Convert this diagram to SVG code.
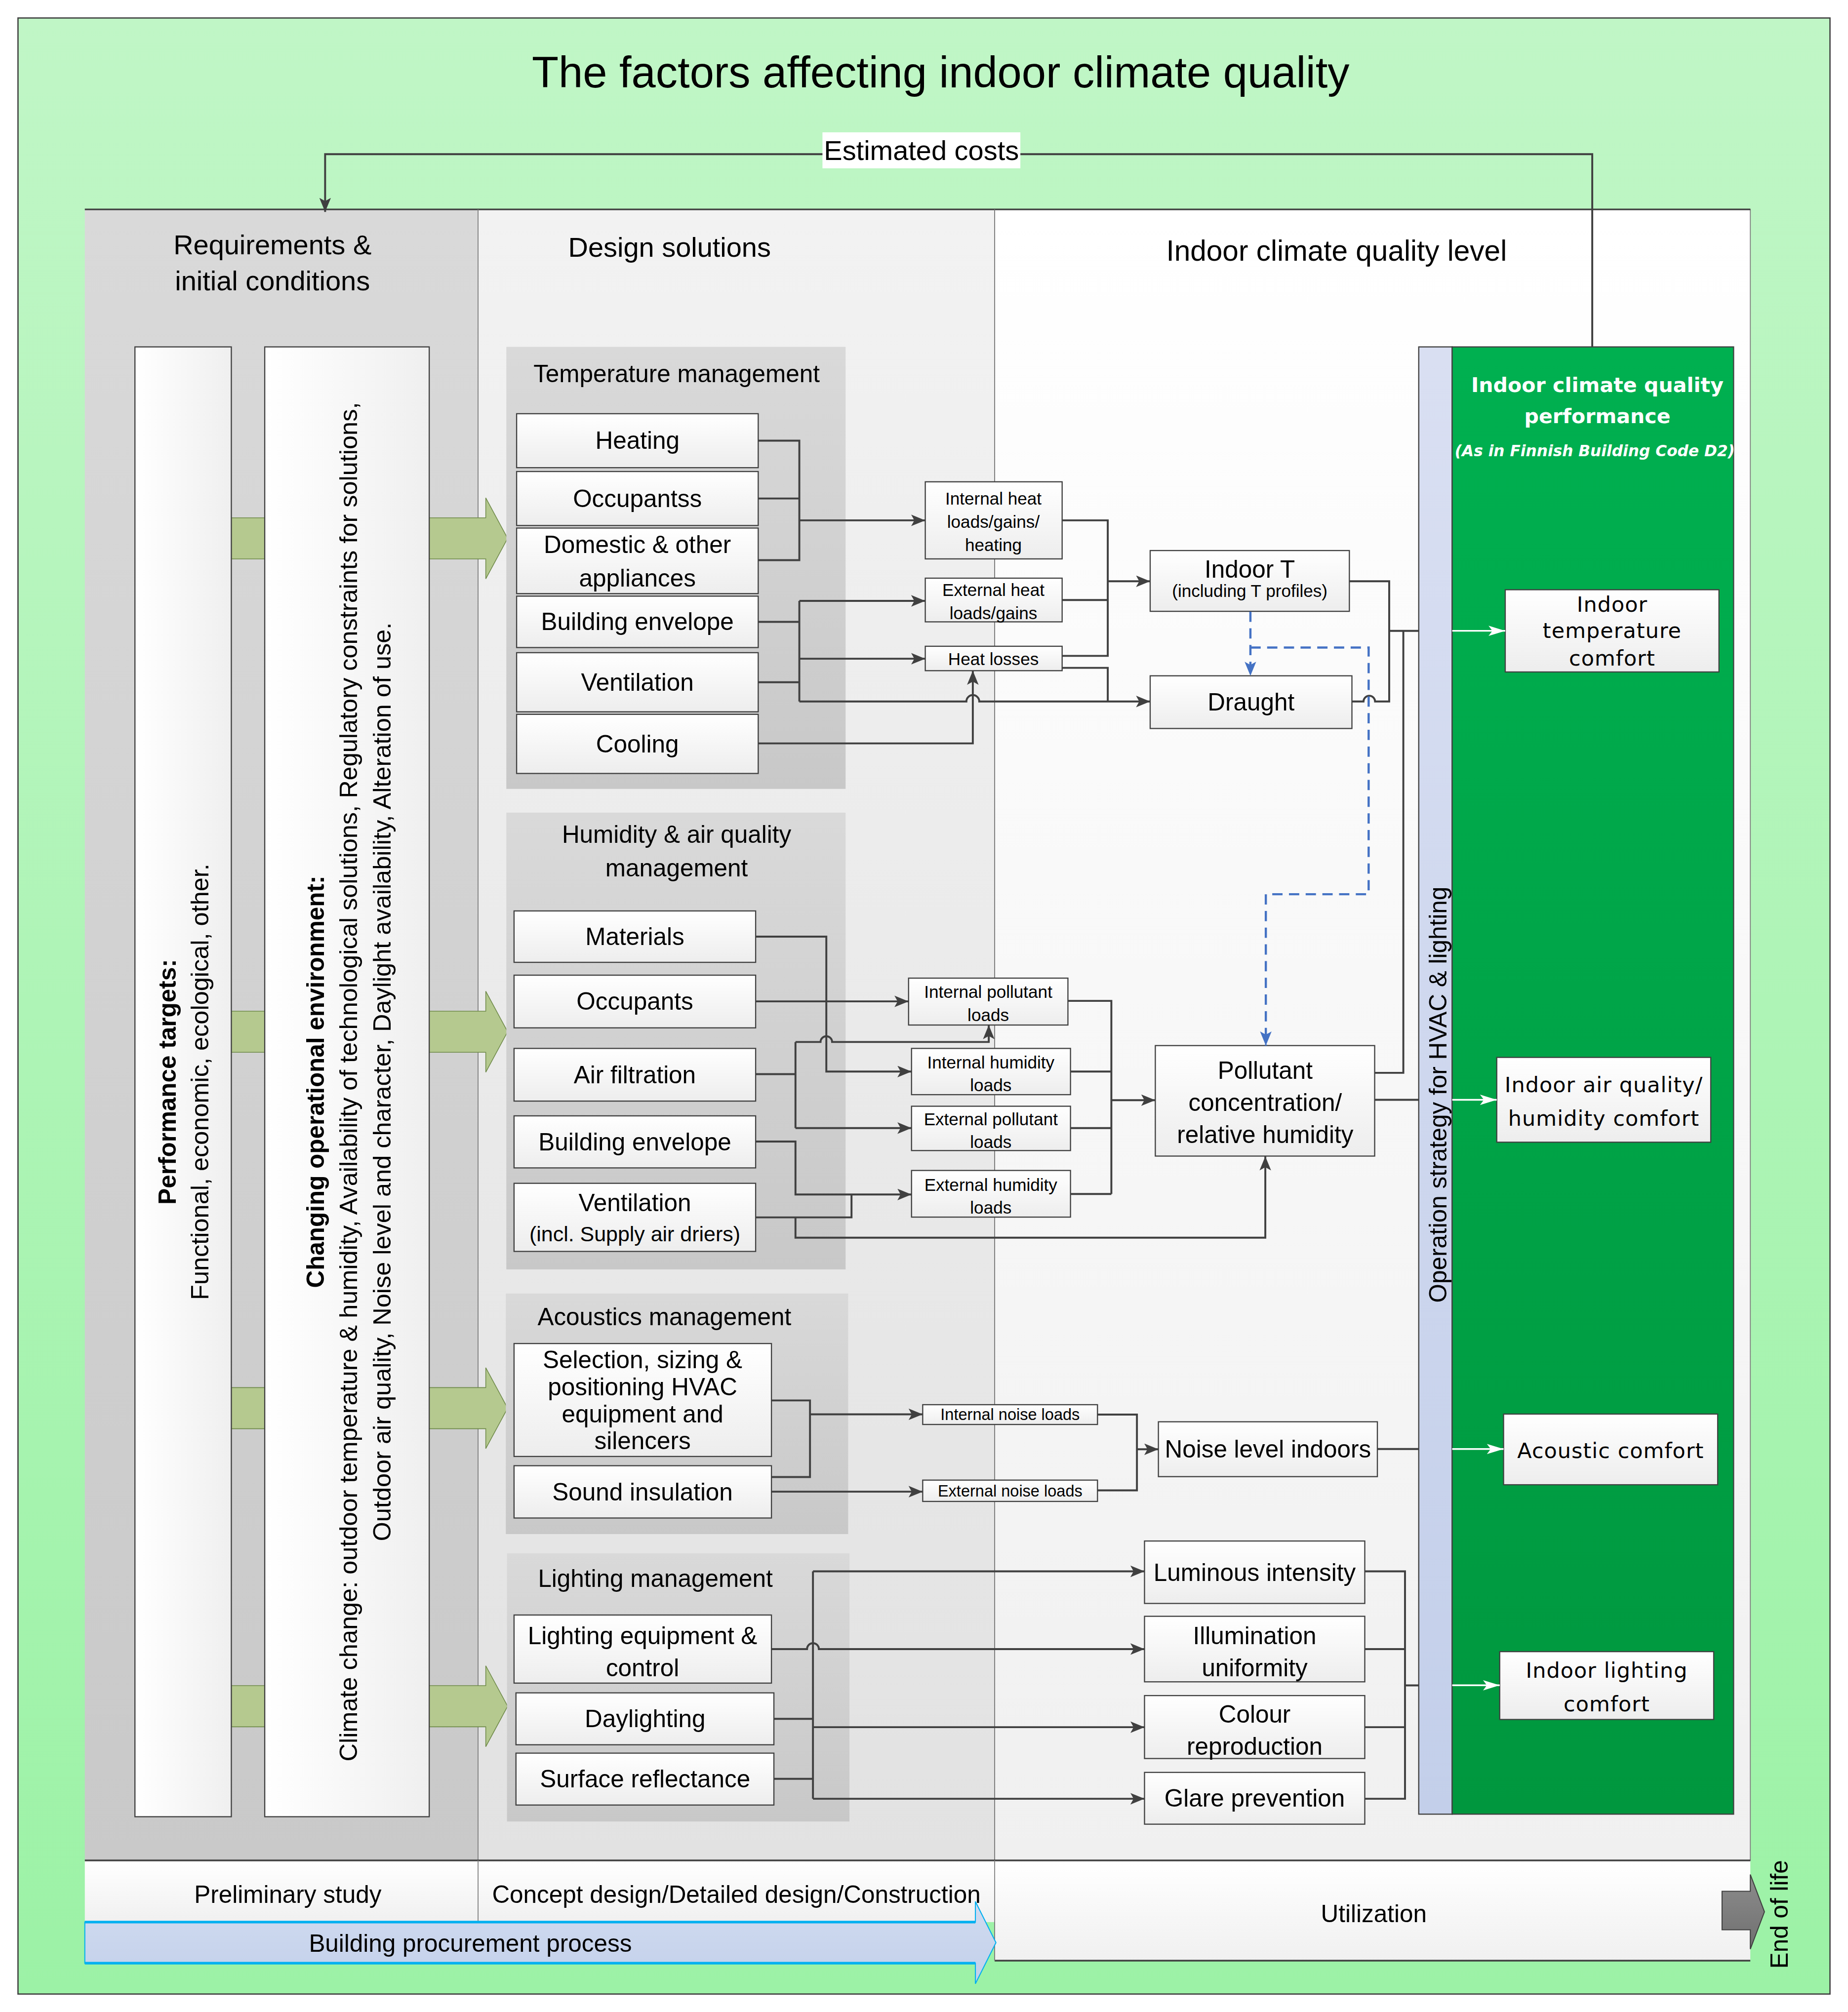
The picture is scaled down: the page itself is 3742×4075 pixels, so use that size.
<svg xmlns="http://www.w3.org/2000/svg" width="3742" height="4075" viewBox="0 0 3742 4075">
<defs>
<linearGradient id="gOuter" x1="0" y1="0" x2="0" y2="1"><stop offset="0" stop-color="#c0f6c6"/><stop offset="1" stop-color="#9cf2a6"/></linearGradient>
<linearGradient id="gReq" x1="0" y1="0" x2="0" y2="1"><stop offset="0" stop-color="#d9d9d9"/><stop offset="1" stop-color="#c9c9c9"/></linearGradient>
<linearGradient id="gDes" x1="0" y1="0" x2="0" y2="1"><stop offset="0" stop-color="#f2f2f2"/><stop offset="1" stop-color="#e2e2e2"/></linearGradient>
<linearGradient id="gInd" x1="0" y1="0" x2="0" y2="1"><stop offset="0" stop-color="#ffffff"/><stop offset="1" stop-color="#f0f0f0"/></linearGradient>
<linearGradient id="gGrp" x1="0" y1="0" x2="0" y2="1"><stop offset="0" stop-color="#d9d9d9"/><stop offset="1" stop-color="#c8c8c8"/></linearGradient>
<linearGradient id="gBox" x1="0" y1="0" x2="0" y2="1"><stop offset="0" stop-color="#ffffff"/><stop offset="1" stop-color="#ededed"/></linearGradient>
<linearGradient id="gBoxH" x1="0" y1="0" x2="1" y2="0"><stop offset="0" stop-color="#ffffff"/><stop offset="1" stop-color="#efefef"/></linearGradient>
<linearGradient id="gBar" x1="0" y1="0" x2="0" y2="1"><stop offset="0" stop-color="#d9dff2"/><stop offset="1" stop-color="#c3cfea"/></linearGradient>
<linearGradient id="gGreen" x1="0" y1="0" x2="0" y2="1"><stop offset="0" stop-color="#00b050"/><stop offset="1" stop-color="#00973e"/></linearGradient>
<linearGradient id="gBlue" x1="0" y1="0" x2="0" y2="1"><stop offset="0" stop-color="#d0dbf0"/><stop offset="1" stop-color="#c3d0ea"/></linearGradient>
<linearGradient id="gGray" x1="0" y1="0" x2="0" y2="1"><stop offset="0" stop-color="#8c8c8c"/><stop offset="1" stop-color="#707070"/></linearGradient>
<marker id="ah" markerUnits="userSpaceOnUse" markerWidth="12" markerHeight="10" refX="11" refY="4.5" orient="auto"><path d="M0,0 L11,4.5 L0,9 L2.5,4.5 z" fill="#404040"/></marker>
<marker id="ahw" markerUnits="userSpaceOnUse" markerWidth="14" markerHeight="10" refX="13" refY="4" orient="auto"><path d="M0,0 L13,4 L0,8 L3,4 z" fill="#ffffff"/></marker>
<marker id="ahb" markerUnits="userSpaceOnUse" markerWidth="12" markerHeight="10" refX="11" refY="4.5" orient="auto"><path d="M0,0 L11,4.5 L0,9 L2.5,4.5 z" fill="#4472c4"/></marker>
<style>
.t{font-family:"Liberation Sans",Arial,sans-serif;text-anchor:middle;fill:#000}
.w{font-family:"DejaVu Sans","Liberation Sans",sans-serif;text-anchor:middle}
.cw{font-family:"DejaVu Sans","Liberation Sans",sans-serif;text-anchor:middle;font-size:16.5px;letter-spacing:0.4px;fill:#000}
.f34{font-size:34px}.f22{font-size:22.5px}.f21{font-size:21.5px}.f19{font-size:19px}.f194{font-size:19.4px}.f16{font-size:16.5px}.f135{font-size:13.5px}.f125{font-size:12.5px}
.b{font-weight:bold}
.box{fill:url(#gBox);stroke:#404040;stroke-width:0.9}
.grp{fill:url(#gGrp);stroke:none}
.c{fill:none;stroke:#404040;stroke-width:1.5}
.a{fill:none;stroke:#404040;stroke-width:1.5;marker-end:url(#ah)}
.wa{fill:none;stroke:#ffffff;stroke-width:1.3;marker-end:url(#ahw)}
.ba{fill:none;stroke:#4472c4;stroke-width:1.7;stroke-dasharray:8,5}
.garrow{fill:#b5c98f;stroke:#6f8a4a;stroke-width:0.6}
.div{stroke:#7f7f7f;stroke-width:0.7}
.cb{fill:url(#gBox);stroke:#404040;stroke-width:0.9}
</style>
</defs>
<g transform="scale(2.6022)">
<!-- background frame -->
<rect x="14" y="14" width="1410" height="1538" fill="url(#gOuter)" stroke="#404040" stroke-width="1"/>
<text class="t f34" x="732" y="68">The factors affecting indoor climate quality</text>

<!-- columns -->
<g id="columns">
<rect x="66" y="163" width="306" height="1285" fill="url(#gReq)"/>
<rect x="372" y="163" width="402" height="1285" fill="url(#gDes)"/>
<rect x="774" y="163" width="588" height="1285" fill="url(#gInd)" stroke="#7f7f7f" stroke-width="0.7"/>
<line x1="66" y1="163" x2="1362" y2="163" stroke="#404040" stroke-width="1.3"/>
<line class="div" x1="372" y1="163" x2="372" y2="1496"/>
<line class="div" x1="774" y1="163" x2="774" y2="1526"/>
<text class="t f21" x="212" y="198">Requirements &amp;</text>
<text class="t f21" x="212" y="226">initial conditions</text>
<text class="t f21" x="521" y="200">Design solutions</text>
<text class="t f22" x="1040" y="203">Indoor climate quality level</text>
</g>

<!-- green input arrows -->
<g id="input-arrows">
<polygon class="garrow" points="180,403 378,403 378,387.5 395,419 378,450.5 378,435 180,435"/>
<polygon class="garrow" points="180,787 378,787 378,771.5 395,803 378,834.5 378,819 180,819"/>
<polygon class="garrow" points="180,1080 378,1080 378,1064.5 395,1096 378,1127.5 378,1112 180,1112"/>
<polygon class="garrow" points="180,1312 378,1312 378,1296.5 395,1328 378,1359.5 378,1344 180,1344"/>
</g>

<g id="performance-targets">
<rect x="105" y="270" width="75" height="1144" fill="url(#gBoxH)" stroke="#404040" stroke-width="0.9"/>
<text class="t f19 b" x="137" y="842" transform="rotate(-90 137 842)">Performance targets:</text>
<text class="t f194" x="162" y="842" transform="rotate(-90 162 842)">Functional, economic, ecological, other.</text>
</g>
<g id="operational-environment">
<rect x="206" y="270" width="128" height="1144" fill="url(#gBoxH)" stroke="#404040" stroke-width="0.9"/>
<text class="t f19 b" x="252" y="842" transform="rotate(-90 252 842)">Changing operational environment:</text>
<text class="t f194" x="278" y="842" transform="rotate(-90 278 842)">Climate change: outdoor temperature &amp; humidity, Availability of technological solutions, Regulatory constraints for solutions,</text>
<text class="t f194" x="304" y="842" transform="rotate(-90 304 842)">Outdoor air quality,  Noise level and character, Daylight availability, Alteration of use.</text>
</g>

<!-- Temperature management -->
<g id="temperature-management">
<rect class="grp" x="394" y="270" width="264" height="344"/>
<text class="t f19" x="526.5" y="297.5">Temperature management</text>
</g>
<g id="heating"><rect class="box" x="402" y="322" width="188" height="42"/><text class="t f19" x="496" y="349.5">Heating</text></g>
<g id="occupantss"><rect class="box" x="402" y="367" width="188" height="42"/><text class="t f19" x="496" y="394.5">Occupantss</text></g>
<g id="domestic"><rect class="box" x="402" y="411" width="188" height="51"/><text class="t f19" x="496" y="430.5">Domestic &amp; other</text><text class="t f19" x="496" y="456.5">appliances</text></g>
<g id="building-envelope-t"><rect class="box" x="402" y="464" width="188" height="40"/><text class="t f19" x="496" y="490.5">Building envelope</text></g>
<g id="ventilation-t"><rect class="box" x="402" y="508" width="188" height="46"/><text class="t f19" x="496" y="537.5">Ventilation</text></g>
<g id="cooling"><rect class="box" x="402" y="556" width="188" height="46"/><text class="t f19" x="496" y="585.5">Cooling</text></g>

<g id="internal-heat"><rect class="box" x="720" y="375" width="106.5" height="60"/><text class="t f135" x="773" y="392.8">Internal heat</text><text class="t f135" x="773" y="410.8">loads/gains/</text><text class="t f135" x="773" y="428.8">heating</text></g>
<g id="external-heat"><rect class="box" x="720" y="450" width="106.5" height="34"/><text class="t f135" x="773" y="463.8">External heat</text><text class="t f135" x="773" y="481.8">loads/gains</text></g>
<g id="heat-losses"><rect class="box" x="720" y="503" width="106.5" height="19"/><text class="t f135" x="773" y="517.5">Heat losses</text></g>
<g id="indoor-t"><rect class="box" x="895" y="428.5" width="155" height="47.3"/><text class="t f19" x="972.5" y="449.5">Indoor T</text><text class="t f135" x="972.5" y="464.5">(including T profiles)</text></g>
<g id="draught"><rect class="box" x="895" y="526" width="157" height="41"/><text class="t f19" x="973.5" y="553">Draught</text></g>

<!-- Humidity -->
<g id="humidity-management">
<rect class="grp" x="394" y="632.5" width="264" height="355.5"/>
<text class="t f19" x="526.5" y="656">Humidity &amp; air quality</text>
<text class="t f19" x="526.5" y="682">management</text>
</g>
<g id="materials"><rect class="box" x="400" y="709" width="188" height="40"/><text class="t f19" x="494" y="735.6">Materials</text></g>
<g id="occupants"><rect class="box" x="400" y="759" width="188" height="41"/><text class="t f19" x="494" y="786">Occupants</text></g>
<g id="air-filtration"><rect class="box" x="400" y="816" width="188" height="41"/><text class="t f19" x="494" y="843">Air filtration</text></g>
<g id="building-envelope-h"><rect class="box" x="400" y="868.5" width="188" height="40.5"/><text class="t f19" x="494" y="895.5">Building envelope</text></g>
<g id="ventilation-h"><rect class="box" x="400" y="921" width="188" height="53"/><text class="t f19" x="494" y="942.5">Ventilation</text><text class="t f16" x="494" y="966">(incl. Supply air driers)</text></g>

<g id="internal-pollutant"><rect class="box" x="707" y="761.3" width="124" height="36.5"/><text class="t f135" x="769" y="776.8">Internal pollutant</text><text class="t f135" x="769" y="794.8">loads</text></g>
<g id="internal-humidity"><rect class="box" x="709.3" y="816" width="123.7" height="36"/><text class="t f135" x="771" y="831.5">Internal humidity</text><text class="t f135" x="771" y="849.3">loads</text></g>
<g id="external-pollutant"><rect class="box" x="709.3" y="861" width="123.7" height="34.5"/><text class="t f135" x="771" y="875.8">External pollutant</text><text class="t f135" x="771" y="893.3">loads</text></g>
<g id="external-humidity"><rect class="box" x="709.3" y="911" width="123.7" height="36.3"/><text class="t f135" x="771" y="926.8">External humidity</text><text class="t f135" x="771" y="944.6">loads</text></g>
<g id="pollutant"><rect class="box" x="899" y="813.8" width="170.7" height="86"/><text class="t f19" x="984.5" y="839.6">Pollutant</text><text class="t f19" x="984.5" y="864.6">concentration/</text><text class="t f19" x="984.5" y="889.6">relative humidity</text></g>

<!-- Acoustics -->
<g id="acoustics-management">
<rect class="grp" x="393.6" y="1006.8" width="266.4" height="187.2"/>
<text class="t f19" x="517" y="1031.6">Acoustics management</text>
</g>
<g id="selection"><rect class="box" x="400" y="1045.7" width="200.3" height="87.9"/><text class="t f19" x="500" y="1065">Selection, sizing &amp;</text><text class="t f19" x="500" y="1086">positioning HVAC</text><text class="t f19" x="500" y="1107">equipment and</text><text class="t f19" x="500" y="1128">silencers</text></g>
<g id="sound-insulation"><rect class="box" x="400" y="1140.8" width="200.3" height="40.7"/><text class="t f19" x="500" y="1168">Sound insulation</text></g>
<g id="internal-noise"><rect class="box" x="718" y="1093.3" width="136" height="15.4"/><text class="t f125" x="786" y="1105.3">Internal noise loads</text></g>
<g id="external-noise"><rect class="box" x="718" y="1152" width="136" height="16.6"/><text class="t f125" x="786" y="1164.6">External noise loads</text></g>
<g id="noise-level"><rect class="box" x="901.4" y="1106.6" width="170.4" height="42.7"/><text class="t f19" x="986.6" y="1134.6">Noise level indoors</text></g>

<!-- Lighting -->
<g id="lighting-management">
<rect class="grp" x="394.5" y="1209" width="266.5" height="208.7"/>
<text class="t f19" x="510" y="1235">Lighting management</text>
</g>
<g id="lighting-equipment"><rect class="box" x="400" y="1257" width="200.3" height="53"/><text class="t f19" x="500" y="1279.6">Lighting equipment &amp;</text><text class="t f19" x="500" y="1304.6">control</text></g>
<g id="daylighting"><rect class="box" x="401.5" y="1317.6" width="200.7" height="40.4"/><text class="t f19" x="502" y="1344.4">Daylighting</text></g>
<g id="surface-reflectance"><rect class="box" x="401.5" y="1364.5" width="200.7" height="40.4"/><text class="t f19" x="502" y="1391">Surface reflectance</text></g>
<g id="luminous"><rect class="box" x="890.6" y="1199.4" width="171.4" height="48.6"/><text class="t f19" x="976.3" y="1230.5">Luminous intensity</text></g>
<g id="illumination"><rect class="box" x="890.6" y="1258" width="171.4" height="51"/><text class="t f19" x="976.3" y="1279.6">Illumination</text><text class="t f19" x="976.3" y="1304.6">uniformity</text></g>
<g id="colour"><rect class="box" x="890.6" y="1319.7" width="171.4" height="49"/><text class="t f19" x="976.3" y="1340.6">Colour</text><text class="t f19" x="976.3" y="1365.6">reproduction</text></g>
<g id="glare"><rect class="box" x="890.6" y="1379.5" width="171.4" height="40.3"/><text class="t f19" x="976.3" y="1406">Glare prevention</text></g>

<!-- Operation strategy bar and performance panel -->
<g id="operation-strategy">
<rect x="1104" y="270" width="26" height="1142" fill="url(#gBar)" stroke="#404040" stroke-width="0.9"/>
<text class="t f19" x="1125.5" y="852" transform="rotate(-90 1125.5 852)">Operation strategy for HVAC &amp; lighting</text>
</g>
<g id="performance-panel">
<rect x="1130" y="270" width="219" height="1142" fill="url(#gGreen)" stroke="#404040" stroke-width="0.9"/>
<text class="w b" x="1243" y="305" font-size="15.8" fill="#ffffff">Indoor climate quality</text>
<text class="w b" x="1243" y="329.5" font-size="15.8" fill="#ffffff">performance</text>
<text class="w b" x="1241" y="355" font-size="12" font-style="italic" fill="#ffffff">(As in Finnish Building Code D2)</text>
</g>
<g id="temp-comfort"><rect class="cb" x="1171.3" y="459" width="166.3" height="64"/><text class="cw" x="1254.5" y="476">Indoor</text><text class="cw" x="1254.5" y="496.5">temperature</text><text class="cw" x="1254.5" y="518">comfort</text></g>
<g id="air-comfort"><rect class="cb" x="1164.7" y="823" width="166.5" height="66"/><text class="cw" x="1248" y="850">Indoor air quality/</text><text class="cw" x="1248" y="876">humidity comfort</text></g>
<g id="acoustic-comfort"><rect class="cb" x="1170" y="1100.6" width="166.6" height="55"/><text class="cw" x="1253.3" y="1135">Acoustic comfort</text></g>
<g id="lighting-comfort"><rect class="cb" x="1167" y="1285.5" width="166.5" height="52.8"/><text class="cw" x="1250.3" y="1306">Indoor lighting</text><text class="cw" x="1250.3" y="1332">comfort</text></g>

<!-- bottom phases -->
<g id="phases">
<rect x="66" y="1448" width="708" height="48" fill="url(#gInd)"/>
<rect x="774" y="1448" width="588" height="78" fill="url(#gInd)"/>
<line x1="66" y1="1448" x2="1362" y2="1448" stroke="#404040" stroke-width="1.3"/>
<line x1="774" y1="1526" x2="1362" y2="1526" stroke="#404040" stroke-width="1.3"/>
<line class="div" x1="372" y1="1448" x2="372" y2="1496"/>
<line class="div" x1="774" y1="1448" x2="774" y2="1526"/>
<text class="t f19" x="224" y="1481">Preliminary study</text>
<text class="t f19" x="573" y="1481">Concept design/Detailed design/Construction</text>
<text class="t f19" x="1069" y="1496">Utilization</text>
</g>
<g id="procurement">
<polygon points="66,1496 759,1496 759,1480 775,1512 759,1544 759,1528 66,1528" fill="url(#gBlue)" stroke="#00b0f0" stroke-width="0.8"/>
<line x1="66" y1="1496" x2="759" y2="1496" stroke="#00b0f0" stroke-width="2"/>
<line x1="66" y1="1528" x2="759" y2="1528" stroke="#00b0f0" stroke-width="2"/>
<text class="t f19" x="366" y="1519">Building procurement process</text>
</g>
<g id="end-of-life">
<polygon points="1340,1472 1362,1472 1362,1459 1373,1488 1362,1517 1362,1502 1340,1502" fill="url(#gGray)" stroke="#404040" stroke-width="0.8"/>
<text class="t f19" x="1391" y="1490" transform="rotate(-90 1391 1490)">End of life</text>
</g>

<!-- connectors -->
<g id="connectors">
<path class="a" d="M1239,270 V120 H253 V165"/>
<!-- temperature -->
<path class="c" d="M590,343 H622 V436 H590 M590,388 H622"/>
<path class="a" d="M622,405 H720"/>
<path class="c" d="M590,484 H622 M590,531 H622 M622,467.7 V546"/>
<path class="a" d="M622,467.7 H720"/>
<path class="a" d="M622,512.7 H720"/>
<path class="a" d="M622,546 H752 a5,5 0 0 1 10,0 H895"/>
<path class="a" d="M590,578.6 H757 V522"/>
<path class="c" d="M826.5,405 H862 V510.5 H826.5 M826.5,467 H862 M826.5,519.8 H862 V546"/>
<path class="a" d="M862,452.4 H895"/>
<path class="c" d="M1050,452.4 H1081 V546 H1070 a4.5,4.5 0 0 0 -9,0 H1052 M1081,491 H1104"/>
<path class="c" d="M1069.7,835 H1092 V491 M1069.7,856 H1104"/>
<path class="ba" d="M973,476 V526" marker-end="url(#ahb)"/>
<path class="ba" d="M973,504 H1065 V696 H985 V813.8" marker-end="url(#ahb)"/>
<!-- humidity -->
<path class="a" d="M588,729 H643 V834 H709.3"/>
<path class="a" d="M588,779.4 H707"/>
<path class="c" d="M588,836 H619 M619,811 V878"/>
<path class="a" d="M619,878 H709.3"/>
<path class="a" d="M619,811 H638.5 a4.5,4.5 0 0 1 9,0 H769.4 V797.8"/>
<path class="a" d="M588,888.5 H619 V929.7 H709.3"/>
<path class="c" d="M588,947.5 H662.6 V929.7"/>
<path class="a" d="M619,947.5 V963.3 H984.6 V900"/>
<path class="c" d="M831,779 H864.8 V929.3 M833,834 H864.8 M833,878 H864.8 M833,929.3 H864.8"/>
<path class="a" d="M864.8,856.3 H899"/>
<!-- acoustics -->
<path class="c" d="M600.3,1090 H630.3 V1149.6 H600.3"/>
<path class="a" d="M630.3,1100.8 H718"/>
<path class="a" d="M600.3,1161 H718"/>
<path class="c" d="M854,1101 H884.7 V1160 H854"/>
<path class="a" d="M884.7,1128 H901.4"/>
<path class="c" d="M1071.8,1127.8 H1104"/>
<!-- lighting -->
<path class="c" d="M632.6,1223 V1400 M602.2,1337.8 H632.6 M602.2,1384.5 H632.6"/>
<path class="a" d="M632.6,1223 H890.6"/>
<path class="a" d="M632.6,1344.3 H890.6"/>
<path class="a" d="M632.6,1400 H890.6"/>
<path class="a" d="M600.3,1283.5 H628 a4.6,4.6 0 0 1 9.2,0 H890.6"/>
<path class="c" d="M1062,1223 H1093.3 V1400 H1062 M1062,1283.5 H1093.3 M1062,1344.3 H1093.3 M1093.3,1311.8 H1104"/>
<!-- to comfort boxes -->
<path class="wa" d="M1130,491 H1171.3"/>
<path class="wa" d="M1130,856 H1164.7"/>
<path class="wa" d="M1130,1127.8 H1170"/>
<path class="wa" d="M1130,1311.7 H1167"/>
</g>

<g id="estimated-costs">
<rect x="640" y="103" width="154" height="28" fill="#ffffff"/>
<text class="t f21" x="717" y="124.5">Estimated costs</text>
</g>
</g>
</svg>
